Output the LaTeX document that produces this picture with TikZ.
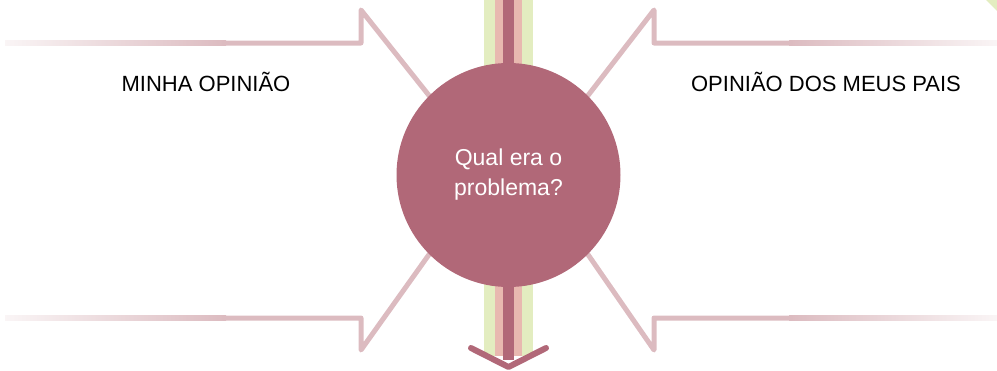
\documentclass[tikz,border=0pt]{standalone}
\usepackage{fontspec}
\setmainfont{Liberation Sans}
\definecolor{rose}{HTML}{B16878}
\definecolor{lpink}{HTML}{DCBBC0}
\definecolor{salmon}{HTML}{E8B9B0}
\definecolor{lgreen}{HTML}{E3EDC0}
\pgfdeclarelayer{bg}
\pgfsetlayers{bg,main}
\begin{document}
\begin{tikzpicture}[x=1pt,y=-1pt,
  arm/.style={draw=lpink,line width=5pt,line join=round,line cap=round},
  fadel/.style={left color=white!85!lpink,right color=lpink},
  fader/.style={left color=lpink,right color=white!85!lpink},
  lbl/.style={font=\fontsize{22}{26}\selectfont,text=black}]
\useasboundingbox (0,0) rectangle (997,370);
% corner triangle
\fill[lgreen] (986,0) -- (997,0) -- (997,11) -- cycle;
% vertical stripes
\fill[lgreen] (484,0) rectangle (533,356);
\fill[salmon] (495,0) rectangle (522,356);
\fill[rose] (503,0) rectangle (514,360);
% down chevron
\coordinate (tip) at (508.5,367);
\draw[rose,line width=6pt,line cap=round,line join=round] (471,348) -- (tip) -- (546,348);
% circle
\node[circle,fill=rose,minimum size=224pt,inner sep=0pt,align=center,text=white,
  font=\fontsize{23}{30}\selectfont] (c) at (508.5,175) {Qual era o\\problema?};
\begin{pgfonlayer}{bg}
% top-left
\shade[fadel] (5,40.5) rectangle (226,45.5);
\draw[arm] (225,43) -- (361,43) -- (361,10) -- (c.135);
% bottom-left
\shade[fadel] (5,315.5) rectangle (226,320.5);
\draw[arm] (225,318) -- (361,318) -- (361,350) -- (c.-135);
% top-right
\shade[fader] (789,40.5) rectangle (997,45.5);
\draw[arm] (790,43) -- (654,43) -- (654,10) -- (c.45);
% bottom-right
\shade[fader] (789,315.5) rectangle (997,320.5);
\draw[arm] (790,318) -- (654,318) -- (654,350) -- (c.-45);
\end{pgfonlayer}
% labels
\node[lbl] (mine) at (206,82) {MINHA OPINIÃO};
\node[lbl] (pais) at (826,82) {OPINIÃO DOS MEUS PAIS};
\end{tikzpicture}
\end{document}
